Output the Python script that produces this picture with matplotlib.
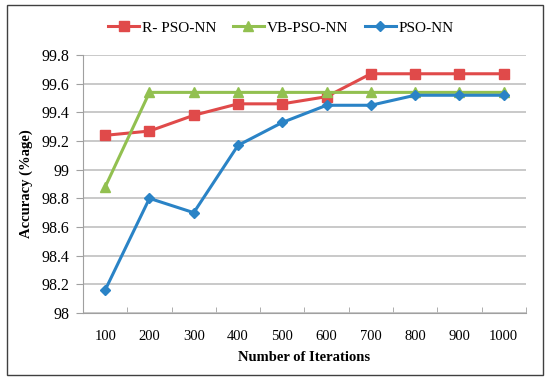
import matplotlib
matplotlib.use("Agg")
import matplotlib.pyplot as plt
from matplotlib.patches import Rectangle

# values
iterations = ["100", "200", "300", "400", "500", "600", "700", "800", "900", "1000"]
r_pso_nn = [99.24, 99.27, 99.38, 99.46, 99.46, 99.51, 99.67, 99.67, 99.67, 99.67]
vb_pso_nn = [98.88, 99.54, 99.54, 99.54, 99.54, 99.54, 99.54, 99.54, 99.54, 99.54]
pso_nn = [98.16, 98.80, 98.70, 99.17, 99.33, 99.45, 99.45, 99.52, 99.52, 99.52]
y_ticks = [98, 98.2, 98.4, 98.6, 98.8, 99, 99.2, 99.4, 99.6, 99.8]

plt.rcParams["font.family"] = ["Liberation Serif", "DejaVu Serif"]

fig = plt.figure(figsize=(5.5, 3.83), dpi=100)
ax = fig.add_axes([0.151, 0.183, 0.805, 0.673])

x = list(range(len(iterations)))
ax.plot(x, r_pso_nn, color="#E04A4A", lw=2.2, marker="s", ms=7, label="R- PSO-NN")
ax.plot(x, vb_pso_nn, color="#92C050", lw=2.2, marker="^", ms=7, label="VB-PSO-NN")
ax.plot(x, pso_nn, color="#2A83C6", lw=2.2, marker="D", ms=5, label="PSO-NN")

ax.set_xlim(-0.5, len(iterations) - 0.5)
ax.set_ylim(98, 99.8)
ax.set_yticks(y_ticks)
ax.set_yticklabels([f"{v:g}" for v in y_ticks])
ax.set_xticks(x)
ax.set_xticklabels(iterations)
ax.set_xticks([i - 0.5 for i in range(len(iterations) + 1)], minor=True)
ax.tick_params(axis="x", which="major", length=0, pad=12, labelsize=10.5)
ax.tick_params(axis="x", which="minor", length=4, color="#A0A0A0", direction="in")
ax.tick_params(axis="y", length=5, color="#A0A0A0", labelsize=11.5, pad=5)

ax.grid(axis="y", color="#C0C0C0", lw=1.2)
ax.set_axisbelow(True)
for side in ["top", "right"]:
    ax.spines[side].set_visible(False)
ax.spines["left"].set_color("#A0A0A0")
ax.spines["bottom"].set_color("#A0A0A0")

ax.set_xlabel("Number of Iterations", fontsize=10.5, fontweight="bold", labelpad=6)
ax.set_ylabel("Accuracy (%age)", fontsize=10.5, fontweight="bold", labelpad=6)

fig.legend(loc="center", bbox_to_anchor=(0.511, 0.927), ncol=3, frameon=False,
           fontsize=11, handlelength=2.0, columnspacing=1.1, handletextpad=0.2)

fig.patches.append(Rectangle((0.0127, 0.0209), 0.9745, 0.966, transform=fig.transFigure,
                             fill=False, edgecolor="#404040", lw=1))

fig.savefig("out.png", dpi=100)
